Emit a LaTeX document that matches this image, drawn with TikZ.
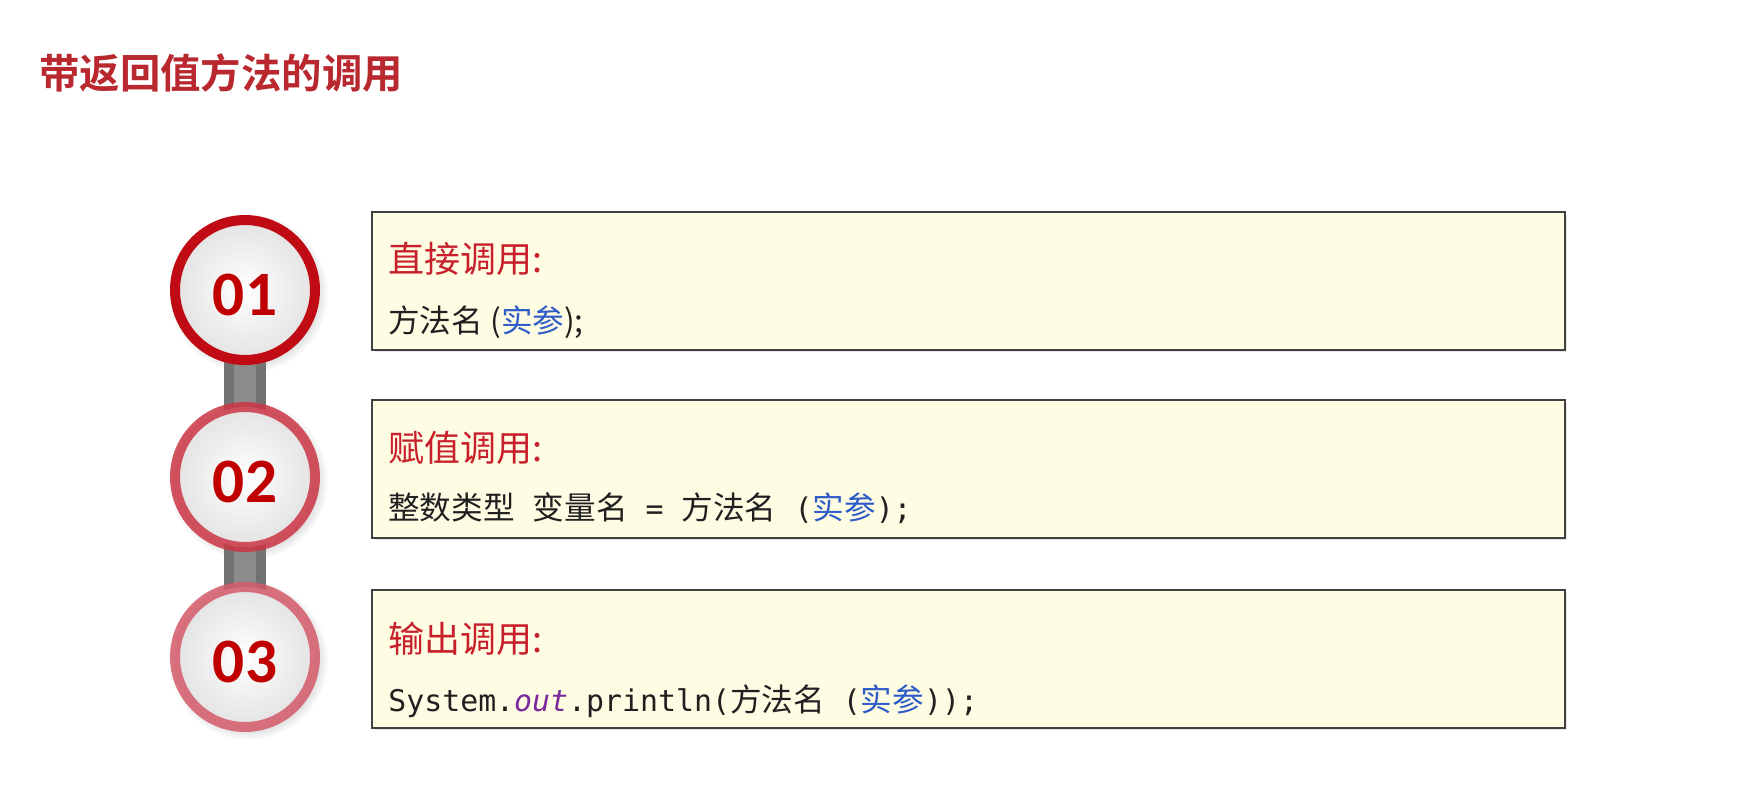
\documentclass[tikz,border=0pt]{standalone}
\usepackage{fontspec}
\setmainfont{Liberation Sans}
\newfontfamily\cjk{Noto Sans CJK SC}
\newfontfamily\cjkbf{Noto Sans CJK SC Bold}
\newfontfamily\code{DejaVu Sans Mono}
\newfontfamily\digits{Carlito}
\usepackage{tikz}
\usetikzlibrary{positioning,shadows,backgrounds}

\definecolor{titlered}{HTML}{B8282E}
\definecolor{headred}{HTML}{C8202A}
\definecolor{numred}{HTML}{C00000}
\definecolor{ringone}{HTML}{C00A14}
\definecolor{ringtwo}{HTML}{CC3545}
\definecolor{ringthree}{HTML}{D45A6A}
\definecolor{boxfill}{HTML}{FFFCE4}
\definecolor{boxline}{HTML}{404040}
\definecolor{codeblue}{HTML}{2E5CC8}
\definecolor{codepurple}{HTML}{7A2A9A}
\definecolor{codeink}{HTML}{202020}
\definecolor{bardark}{HTML}{727272}
\definecolor{barlight}{HTML}{8C8C8C}

\newcommand{\zh}[1]{{\cjk\fontsize{18}{20}\selectfont #1}}

\begin{document}
\begin{tikzpicture}[x=0.02cm, y=-0.02cm,
  stepnum/.style={circle, minimum size=2.8cm, line width=0.2cm, inner color=white, outer color=gray!22,
    font=\digits\bfseries\fontsize{36}{40}\selectfont, text=numred, text height=1.02cm, text depth=0cm,
    circular drop shadow={shadow scale=1.14, opacity=0.28}},
  callbox/.style={draw=boxline, line width=0.04cm, fill=boxfill, anchor=north west,
    minimum width=23.86cm, minimum height=2.76cm, inner sep=0pt,
    drop shadow={shadow xshift=0.05cm, shadow yshift=-0.05cm, opacity=0.2}},
  head/.style={anchor=base west, inner sep=0pt, text=headred, font=\cjk\fontsize{20.5}{24}\selectfont},
  codeline/.style={anchor=base west, inner sep=0pt, text=codeink, font=\code\fontsize{17}{20}\selectfont}]

% title
\node[anchor=base west, inner sep=0pt, text=titlered, font=\cjkbf\fontsize{23}{28}\selectfont] (title) at (39,88) {带返回值方法的调用};

% step circles
\node[stepnum, draw=ringone] (n1) at (245,290) {01};
\node[stepnum, draw=ringtwo, draw opacity=0.85] (n2) at (245,477) {02};
\node[stepnum, draw=ringthree, draw opacity=0.85] (n3) at (245,657) {03};

% boxes
\node[callbox] (box1) at (371,211) {};
\node[callbox] (box2) at (371,399) {};
\node[callbox] (box3) at (371,589) {};

\node[head] (head1) at (388,272) {直接调用:};
\node[codeline] (line1) at (388,332) {\zh{方法名 (\textcolor{codeblue}{实参});}};

\node[head] (head2) at (388,461) {赋值调用:};
\node[codeline] (line2) at (388,519) {\zh{整数类型} \zh{变量名} = \zh{方法名} (\textcolor{codeblue}{\zh{实参}});};

\node[head] (head3) at (388,652) {输出调用:};
\node[codeline] (line3) at (388,711) {System.\textcolor{codepurple}{\itshape out}.println(\zh{方法名} (\textcolor{codeblue}{\zh{实参}}));};

% bar behind the circles
\begin{scope}[on background layer]
\fill[white] (0,0) rectangle (1764,795);
\draw[bardark, line width=0.84cm] (n1.center) -- (n3.center);
\draw[barlight, line width=0.44cm] (n1.center) -- (n3.center);
\end{scope}
\end{tikzpicture}
\end{document}
